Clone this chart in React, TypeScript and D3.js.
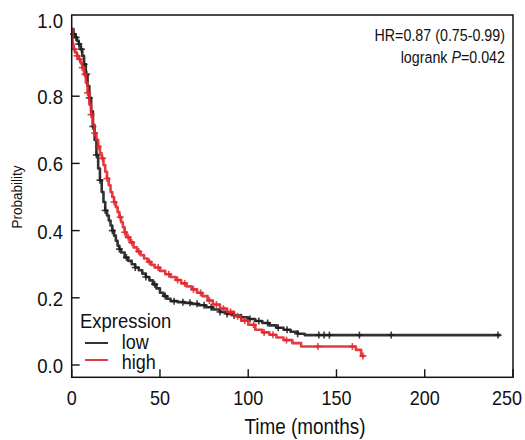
import React from "react";
import * as d3 from "d3";

// ---- data ----
const lowTimes = [0, 1, 2, 3, 4, 5, 6, 7, 8, 9, 10, 11, 12, 13, 14, 15, 16, 17, 18, 19, 20, 21, 22, 23, 24, 25, 26, 27, 28, 30, 32, 34, 36, 38, 40, 42, 44, 46, 48, 50, 52, 54, 56, 60, 64, 68, 72, 76, 80, 84, 88, 92, 96, 100, 104, 108, 112, 116, 120, 124, 128, 132, 243];
const lowSurv = [1.0, 0.985, 0.975, 0.965, 0.955, 0.94, 0.92, 0.895, 0.865, 0.83, 0.795, 0.755, 0.71, 0.67, 0.625, 0.585, 0.55, 0.515, 0.485, 0.46, 0.445, 0.43, 0.415, 0.4, 0.385, 0.37, 0.355, 0.345, 0.335, 0.32, 0.31, 0.3, 0.29, 0.282, 0.272, 0.262, 0.252, 0.24, 0.228, 0.215, 0.205, 0.197, 0.19, 0.187, 0.185, 0.182, 0.178, 0.172, 0.165, 0.158, 0.152, 0.147, 0.142, 0.137, 0.131, 0.125, 0.118, 0.111, 0.105, 0.099, 0.093, 0.089, 0.089];
const lowCensor = [1, 2.5, 4, 5.5, 7, 8.5, 10, 12, 14, 16, 19, 23, 27, 31, 36, 42, 47, 53, 58, 63, 67, 71, 75, 79, 84, 88, 92, 96, 101, 106, 111, 117, 122, 128, 140, 143, 146, 163, 181, 241.5];

const highTimes = [0, 0.5, 1, 2, 3, 4, 5, 6, 7, 8, 9, 10, 11, 12, 13, 14, 15, 16, 17, 18, 19, 20, 21, 22, 23, 24, 25, 26, 27, 28, 29, 30, 31, 33, 35, 37, 39, 41, 43, 45, 47, 50, 53, 56, 59, 62, 65, 68, 71, 74, 77, 80, 84, 88, 92, 96, 100, 104, 108, 112, 116, 120, 125, 130, 161, 164, 166];
const highSurv = [1.0, 0.955, 0.94, 0.93, 0.92, 0.91, 0.9, 0.885, 0.865, 0.84, 0.81, 0.775, 0.745, 0.715, 0.69, 0.67, 0.65, 0.63, 0.615, 0.595, 0.575, 0.555, 0.535, 0.515, 0.5, 0.485, 0.47, 0.455, 0.44, 0.425, 0.41, 0.395, 0.38, 0.365, 0.35, 0.338, 0.327, 0.317, 0.307, 0.298, 0.29, 0.28, 0.27, 0.262, 0.253, 0.243, 0.234, 0.225, 0.215, 0.205, 0.192, 0.18, 0.168, 0.158, 0.145, 0.132, 0.12, 0.105, 0.097, 0.09, 0.082, 0.074, 0.065, 0.055, 0.045, 0.027, 0.027];
const highCensor = [1.5, 3, 4.5, 6, 7.5, 9, 11, 13, 15, 17.5, 20, 24, 27.5, 30, 32, 34, 38, 44, 49, 55, 60, 64, 69, 73, 78, 82, 86, 90, 94, 98, 103, 109, 114, 121.7, 139.5, 159, 165];

const xTicks = [0, 50, 100, 150, 200, 250];
const yTicks = [0, 0.2, 0.4, 0.6, 0.8, 1.0];
const legendLabels = ["low", "high"];
const statLines = ["HR=0.87 (0.75-0.99)", "logrank P=0.042"];

// ---- layout ----
const W = 525, H = 440;
const L = 71.7, R = 513, T = 15, B = 377.3;
const FONT = "'Liberation Sans', Arial, Helvetica, sans-serif";
const BLACK = "#1c1c1c";
const RED = "#e3262b";

const x = d3.scaleLinear().domain([0, 250]).range([L, R]);
const y = d3.scaleLinear().domain([0, 1]).range([365, 29]);

function survAt(times: number[], surv: number[], t: number) {
  let s = surv[0];
  for (let i = 0; i < times.length; i++) {
    if (times[i] <= t) s = surv[i];
    else break;
  }
  return s;
}

const line = d3
  .line<[number, number]>()
  .x((d) => x(d[0]))
  .y((d) => y(d[1]))
  .curve(d3.curveStepAfter);

function STxt(props: { x: number; y: number; size: number; sx?: number; anchor?: string; children: React.ReactNode; fill?: string }) {
  return (
    <text
      transform={`translate(${props.x},${props.y}) scale(${props.sx ?? 0.86},1)`}
      fontSize={props.size}
      fontFamily={FONT}
      textAnchor={props.anchor || "start"}
      fill={props.fill || "#111"}
    >
      {props.children}
    </text>
  );
}

function Curve({ times, surv, censor, color }: { times: number[]; surv: number[]; censor: number[]; color: string }) {
  const pts = times.map((t, i) => [t, surv[i]] as [number, number]);
  return (
    <g>
      <path d={line(pts) || ""} fill="none" stroke={color} strokeWidth={2.6} strokeLinejoin="round" opacity={0.9} />
      {censor.map((t, i) => {
        const cx = x(t);
        const cy = y(survAt(times, surv, t));
        return (
          <g key={i} stroke={color} strokeWidth={1.6} opacity={0.85}>
            <line x1={cx - 3.5} x2={cx + 3.5} y1={cy} y2={cy} />
            <line x1={cx} x2={cx} y1={cy - 3.5} y2={cy + 3.5} />
          </g>
        );
      })}
    </g>
  );
}

export default function App() {
  return (
    <svg width={W} height={H} style={{ position: "absolute", left: 0, top: 0, background: "#fff" }}>
      <rect x={0} y={0} width={W} height={H} fill="#fff" />
      {/* curves */}
      <Curve times={lowTimes} surv={lowSurv} censor={lowCensor} color={BLACK} />
      <Curve times={highTimes} surv={highSurv} censor={highCensor} color={RED} />
      {/* frame */}
      <rect x={L} y={T} width={R - L} height={B - T} fill="none" stroke="#111" strokeWidth={1.5} />
      {/* y ticks */}
      {yTicks.map((v) => (
        <g key={v}>
          {v < 1 && <line x1={L} x2={L + 8} y1={y(v)} y2={y(v)} stroke="#111" strokeWidth={1.4} />}
          <STxt x={63} y={(v < 1 ? y(v) : y(v) - 9) + 8} size={20} sx={0.93} anchor="end">
            {v.toFixed(1)}
          </STxt>
        </g>
      ))}
      {/* x ticks */}
      {xTicks.map((v) => (
        <g key={v}>
          <line x1={x(v)} x2={x(v)} y1={B} y2={B - 8} stroke="#111" strokeWidth={1.4} />
          <STxt x={Math.min(x(v), 507)} y={405} size={20} sx={0.9} anchor="middle">
            {v}
          </STxt>
        </g>
      ))}
      {/* axis titles */}
      <STxt x={305} y={434} size={22} anchor="middle">
        Time (months)
      </STxt>
      <text
        transform={`translate(22,197) rotate(-90) scale(0.9,1)`}
        fontSize={15}
        fontFamily={FONT}
        textAnchor="middle"
        fill="#111"
      >
        Probability
      </text>
      {/* stats */}
      <STxt x={505} y={41} size={17} sx={0.84} anchor="end">
        {statLines[0]}
      </STxt>
      <STxt x={505} y={63} size={17} sx={0.84} anchor="end">
        <tspan>logrank </tspan>
        <tspan fontStyle="italic">P</tspan>
        <tspan>=0.042</tspan>
      </STxt>
      {/* legend */}
      <STxt x={80} y={328} size={20.5} sx={0.9} anchor="start">
        Expression
      </STxt>
      <line x1={85} x2={108} y1={343} y2={343} stroke={BLACK} strokeWidth={1.8} />
      <line x1={85} x2={108} y1={360} y2={360} stroke={RED} strokeWidth={1.8} />
      <STxt x={121.7} y={349} size={20} sx={0.9}>
        {legendLabels[0]}
      </STxt>
      <STxt x={121.7} y={369} size={20} sx={0.9}>
        {legendLabels[1]}
      </STxt>
    </svg>
  );
}
